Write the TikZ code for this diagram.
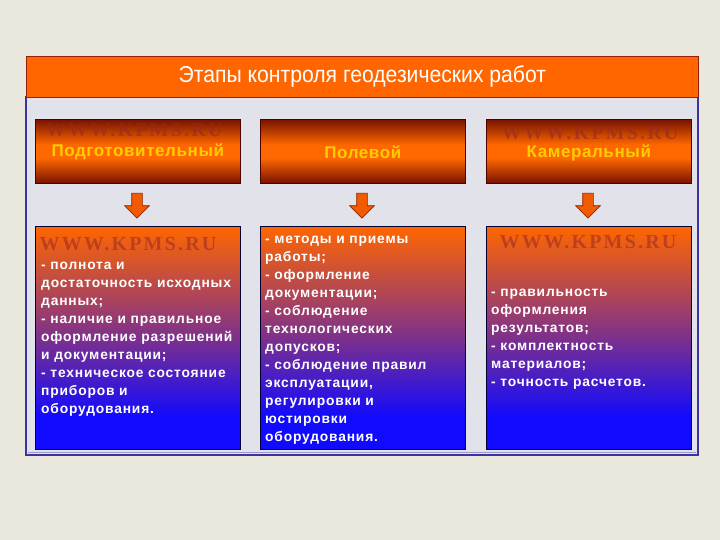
\documentclass[tikz,border=0pt]{standalone}
\usepackage{fontspec}
\setmainfont{Liberation Sans}
\newfontfamily\titlefont[FakeStretch=0.92]{Liberation Sans}
\newfontfamily\bodyfont[LetterSpace=6]{Liberation Sans}
\newfontfamily\headfont[LetterSpace=3.5]{Liberation Sans}
\newfontfamily\wmfont[LetterSpace=11]{Liberation Serif}
\usetikzlibrary{shapes.arrows}
\definecolor{bgc}{RGB}{234,232,220}
\definecolor{panelc}{RGB}{226,226,234}
\definecolor{panelb}{RGB}{60,50,160}
\definecolor{titlec}{RGB}{255,102,0}
\definecolor{titleb}{RGB}{150,30,10}
\definecolor{hdrdk}{RGB}{120,18,0}
\definecolor{hdror}{RGB}{255,104,0}
\definecolor{hdrtxt}{RGB}{255,204,0}
\definecolor{cor}{RGB}{255,102,0}
\definecolor{cpu}{RGB}{125,48,140}
\definecolor{cbl}{RGB}{16,10,255}
\definecolor{wmc}{RGB}{150,40,40}
\definecolor{arrf}{RGB}{240,90,0}
\definecolor{arrb}{RGB}{150,30,0}
\pgfdeclareverticalshading{hdrshade}{100bp}{color(0bp)=(hdrdk); color(25bp)=(hdrdk); color(45bp)=(hdror); color(55bp)=(hdror); color(75bp)=(hdrdk); color(100bp)=(hdrdk)}
\pgfdeclareverticalshading{cshade}{100bp}{color(0bp)=(cbl); color(25bp)=(cbl); color(32bp)=(cbl); color(50bp)=(cpu); color(75bp)=(cor); color(100bp)=(cor)}
\tikzset{
  hdrbox/.style={draw=black!70!red, line width=0.6pt, shading=hdrshade, minimum width=205pt, minimum height=64pt, anchor=north west, inner sep=0pt},
  contbox/.style={draw=black!80!blue, line width=0.6pt, shading=cshade, minimum width=205pt, minimum height=223pt, anchor=north west, inner sep=0pt},
  hdrtext/.style={text=hdrtxt, font=\headfont\bfseries\fontsize{17}{19}\selectfont},
  bodytext/.style={text=white, anchor=north west, inner sep=0pt, align=left, font=\bodyfont\bfseries\fontsize{13.8}{18}\selectfont},
  wm/.style={text=wmc, opacity=0.55, font=\wmfont\bfseries\fontsize{20}{22}\selectfont},
  downarrow/.style={single arrow, draw=arrb, fill=arrf, line width=0.6pt, rotate=-90, minimum height=25pt, minimum width=22pt, inner xsep=0pt, inner ysep=5pt}
}
\begin{document}
\begin{tikzpicture}[x=1pt,y=-1pt]
\useasboundingbox (0,0) rectangle (720,540);
\fill[bgc] (0,0) rectangle (720,540);
% panel
\draw[panelb, line width=1.5pt, fill=panelc] (26,97) rectangle (698,455);
\draw[panelb!50!white, line width=0.6pt] (28,452) -- (696,452);
% title
\node[draw=titleb, line width=0.8pt, fill=titlec, minimum width=672pt, minimum height=41pt, anchor=north west, inner sep=0pt] (title) at (26,56) {};
\node[text=white, font=\titlefont\fontsize{23}{25}\selectfont] at (title.center) {Этапы контроля геодезических работ};
% headers
\node[hdrbox] (h1) at (35,119) {};
\node[hdrbox] (h2) at (260,119) {};
\node[hdrbox] (h3) at (486,119) {};
\node[wm] at (134,130) {WWW.KPMS.RU};
\node[wm] at (590,133) {WWW.KPMS.RU};
\node[hdrtext] at ([yshift=-1pt]h1.center) {Подготовительный};
\node[hdrtext] at ([yshift=-1pt]h2.center) {Полевой};
\node[hdrtext] at ([yshift=-1.5pt]h3.center) {Камеральный};
% content boxes
\node[contbox] (c1) at (35,226) {};
\node[contbox] (c2) at (260,226) {};
\node[contbox] (c3) at (486,226) {};
\node[wm] at (128,244) {WWW.KPMS.RU};
\node[wm] at (588,242) {WWW.KPMS.RU};
\node[bodytext] (t1) at (41,256.5) {\strut- полнота и\\достаточность исходных\\данных;\\- наличие и правильное\\оформление разрешений\\и документации;\\- техническое состояние\\приборов и\\оборудования.};
\node[bodytext] (t2) at (265,230.5) {\strut- методы и приемы\\работы;\\- оформление\\документации;\\- соблюдение\\технологических\\допусков;\\- соблюдение правил\\эксплуатации,\\регулировки и\\юстировки\\оборудования.};
\node[bodytext] (t3) at (491,283.5) {\strut- правильность\\оформления\\результатов;\\- комплектность\\материалов;\\- точность расчетов.};
% arrows
\node[downarrow] (a1) at (137,203) {};
\node[downarrow] (a2) at (362,203) {};
\node[downarrow] (a3) at (588,203) {};
\end{tikzpicture}
\end{document}
